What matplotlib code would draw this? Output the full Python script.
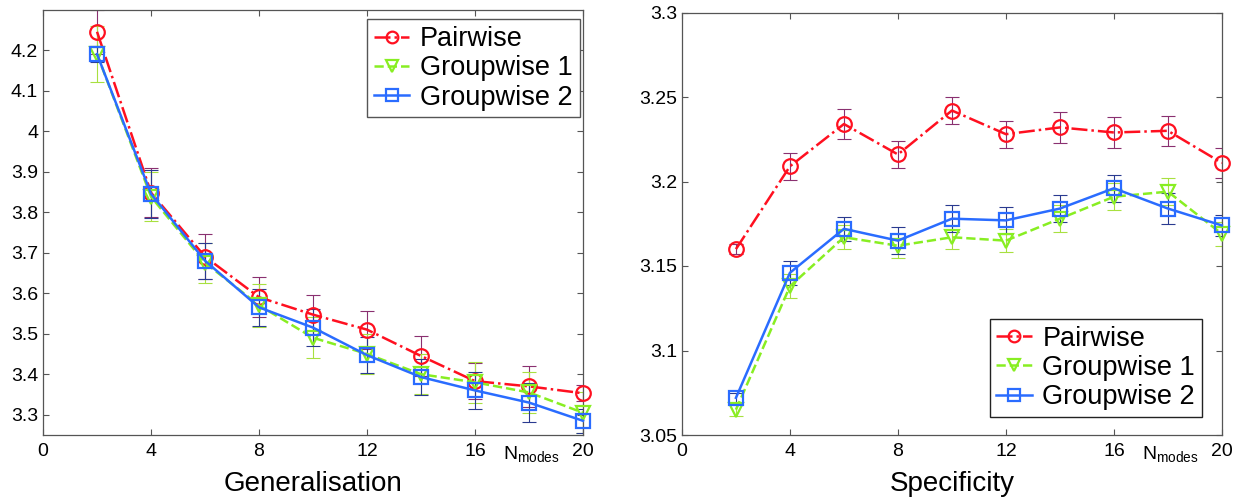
import numpy as np
import matplotlib.pyplot as plt
import matplotlib.transforms as mtransforms

plt.rcParams['font.family'] = ['Liberation Sans', 'DejaVu Sans']
plt.rcParams['mathtext.fontset'] = 'custom'
plt.rcParams['mathtext.rm'] = 'Liberation Sans'

modes = [2, 4, 6, 8, 10, 12, 14, 16, 18, 20]
labels = ['Pairwise', 'Groupwise 1', 'Groupwise 2']

# generalisation (left)
gen_pair = [4.245, 3.848, 3.690, 3.590, 3.547, 3.510, 3.445, 3.383, 3.370, 3.353]
gen_pair_err = [0.055, 0.060, 0.055, 0.050, 0.048, 0.047, 0.050, 0.045, 0.050, 0.020]
gen_grp1 = [4.190, 3.838, 3.675, 3.570, 3.490, 3.450, 3.400, 3.380, 3.355, 3.305]
gen_grp1_err = [0.070, 0.060, 0.050, 0.053, 0.050, 0.050, 0.050, 0.050, 0.050, 0.050]
gen_grp2 = [4.190, 3.845, 3.680, 3.565, 3.515, 3.447, 3.393, 3.360, 3.330, 3.285]
gen_grp2_err = [0.020, 0.060, 0.045, 0.045, 0.045, 0.045, 0.045, 0.045, 0.048, 0.030]

# specificity (right)
spe_pair = [3.160, 3.209, 3.234, 3.216, 3.242, 3.228, 3.232, 3.229, 3.230, 3.211]
spe_pair_err = [0.003, 0.008, 0.009, 0.008, 0.008, 0.008, 0.009, 0.009, 0.009, 0.009]
spe_grp1 = [3.065, 3.138, 3.167, 3.162, 3.167, 3.165, 3.178, 3.191, 3.194, 3.169]
spe_grp1_err = [0.004, 0.007, 0.007, 0.007, 0.007, 0.007, 0.008, 0.008, 0.008, 0.007]
spe_grp2 = [3.072, 3.146, 3.172, 3.165, 3.178, 3.177, 3.184, 3.196, 3.184, 3.174]
spe_grp2_err = [0.003, 0.007, 0.007, 0.008, 0.008, 0.008, 0.008, 0.008, 0.009, 0.006]

colors = ['#ff1020', '#88ee22', '#2a6cff']
err_colors = ['#8a3070', '#a8e040', '#2a3a90']
styles = [dict(ls='-.', marker='o'), dict(ls='--', marker='v'), dict(ls='-', marker='s')]

fig = plt.figure(figsize=(12.37, 5), dpi=100)
ax1 = fig.add_axes([0.0348, 0.13, 0.4365, 0.851])
ax2 = fig.add_axes([0.5513, 0.13, 0.4365, 0.845])


def draw(ax, series, errs):
    for i, (ys, es) in enumerate(zip(series, errs)):
        ax.errorbar(modes, ys, yerr=es, fmt='none', ecolor=err_colors[i],
                    elinewidth=0.8, capsize=5, capthick=0.8, zorder=2)
        ax.plot(modes, ys, color=colors[i], lw=1.8, ms=10.5, mfc='none',
                mew=1.6, label=labels[i], zorder=3, clip_on=False, **styles[i])
    ax.set_xlim(0, 20)
    ax.set_xticks([0, 4, 8, 12, 16, 20])
    ax.tick_params(direction='in', top=True, right=True, labelsize=14, length=4.5,
                   color='#555555')
    ax.tick_params(axis='x', pad=6)
    trans = mtransforms.blended_transform_factory(ax.transData, ax.transAxes)
    ax.text(18.1, -0.022, r'N$_{\mathrm{modes}}$', transform=trans, ha='center',
            va='top', fontsize=14)
    ax.xaxis.labelpad = 8
    for s in ax.spines.values():
        s.set_linewidth(0.9)
        s.set_color('#555555')


leg_kw = dict(fontsize=19.5, fancybox=False, framealpha=1, handlelength=1.3,
              handletextpad=0.4, borderpad=0.25, labelspacing=0.12,
              borderaxespad=0, markerscale=0.8)

draw(ax1, [gen_pair, gen_grp1, gen_grp2], [gen_pair_err, gen_grp1_err, gen_grp2_err])
ax1.set_ylim(3.25, 4.3)
ax1.set_yticks([3.3, 3.4, 3.5, 3.6, 3.7, 3.8, 3.9, 4.0, 4.1, 4.2])
ax1.set_yticklabels(['3.3', '3.4', '3.5', '3.6', '3.7', '3.8', '3.9', '4', '4.1', '4.2'])
ax1.set_xlabel('Generalisation', fontsize=20)
ax1.legend(loc='upper right', bbox_to_anchor=(0.994, 0.977), edgecolor='#555555', **leg_kw)

draw(ax2, [spe_pair, spe_grp1, spe_grp2], [spe_pair_err, spe_grp1_err, spe_grp2_err])
ax2.set_ylim(3.05, 3.3)
ax2.set_yticks([3.05, 3.1, 3.15, 3.2, 3.25, 3.3])
ax2.set_yticklabels(['3.05', '3.1', '3.15', '3.2', '3.25', '3.3'])
ax2.set_xlabel('Specificity', fontsize=20)
ax2.legend(loc='lower right', bbox_to_anchor=(0.963, 0.043), edgecolor='#222222', **leg_kw)

fig.savefig('out.png', dpi=100)
